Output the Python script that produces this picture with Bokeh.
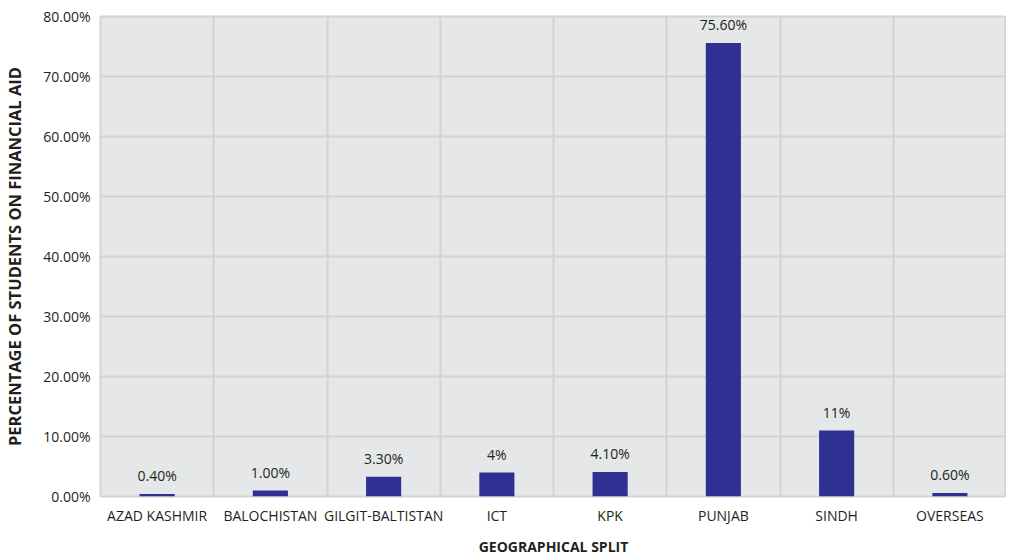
from bokeh.plotting import figure
from bokeh.models import ColumnDataSource, FixedTicker, PrintfTickFormatter, LabelSet
from bokeh.core.properties import value
from bokeh.embed import file_html
from bokeh.resources import INLINE

categories = ["AZAD KASHMIR", "BALOCHISTAN", "GILGIT-BALTISTAN", "ICT", "KPK",
              "PUNJAB", "SINDH", "OVERSEAS"]
values = [0.4, 1.0, 3.3, 4.0, 4.1, 75.6, 11.0, 0.6]
labels = ["0.40%", "1.00%", "3.30%", "4%", "4.10%", "75.60%", "11%", "0.60%"]
y_ticks = [0, 10, 20, 30, 40, 50, 60, 70, 80]

n = len(categories)
xpos = [i + 0.5 for i in range(n)]
src = ColumnDataSource(dict(x=xpos, top=values, label=labels))

FONT = "Open Sans"
TXT = "#231f20"

p = figure(frame_width=906, frame_height=480, output_backend="svg", toolbar_location=None,
           x_range=(0, n), y_range=(0, 80),
           min_border_left=95, min_border_right=0, min_border_top=16, min_border_bottom=50)

p.background_fill_color = "#e6e7e8"
p.border_fill_color = "white"
p.outline_line_color = "#d1d3d4"
p.outline_line_width = 2

p.vbar(x="x", top="top", width=0.31, source=src, color="#2e3192", line_color=None)

lbl = LabelSet(x="x", y="top", text="label", source=src, text_align="center",
               text_baseline="bottom", y_offset=9, text_font=value(FONT),
               text_font_size="14px", text_color=TXT)
p.add_layout(lbl)

# grids
p.xgrid.ticker = FixedTicker(ticks=list(range(n + 1)))
p.ygrid.ticker = FixedTicker(ticks=y_ticks)
for g in (p.xgrid, p.ygrid):
    g.grid_line_color = "#d1d3d4"
    g.grid_line_width = 2

# axes
p.xaxis.ticker = FixedTicker(ticks=xpos)
p.xaxis.major_label_overrides = {x: c for x, c in zip(xpos, categories)}
p.yaxis.ticker = FixedTicker(ticks=y_ticks)
p.yaxis.formatter = PrintfTickFormatter(format="%.2f%%")

for ax in (p.xaxis, p.yaxis):
    ax.axis_line_color = None
    ax.major_tick_line_color = None
    ax.minor_tick_line_color = None
    ax.major_tick_out = 0
    ax.major_tick_in = 0
    ax.major_label_text_font = FONT
    ax.major_label_text_color = TXT
    ax.axis_label_text_font = FONT
    ax.axis_label_text_font_style = "bold"
    ax.axis_label_text_color = TXT

p.xaxis.major_label_text_font_size = "14px"
p.yaxis.major_label_text_font_size = "14px"
p.xaxis.major_label_standoff = 9
p.yaxis.major_label_standoff = 10
p.xaxis.axis_label = "GEOGRAPHICAL SPLIT"
p.xaxis.axis_label_text_font_size = "14px"
p.xaxis.axis_label_standoff = 9
p.yaxis.axis_label = "PERCENTAGE OF STUDENTS ON FINANCIAL AID"
p.yaxis.axis_label_text_font_size = "16.5px"
p.yaxis.axis_label_standoff = 14

open("out.html", "w").write(file_html(p, INLINE))
